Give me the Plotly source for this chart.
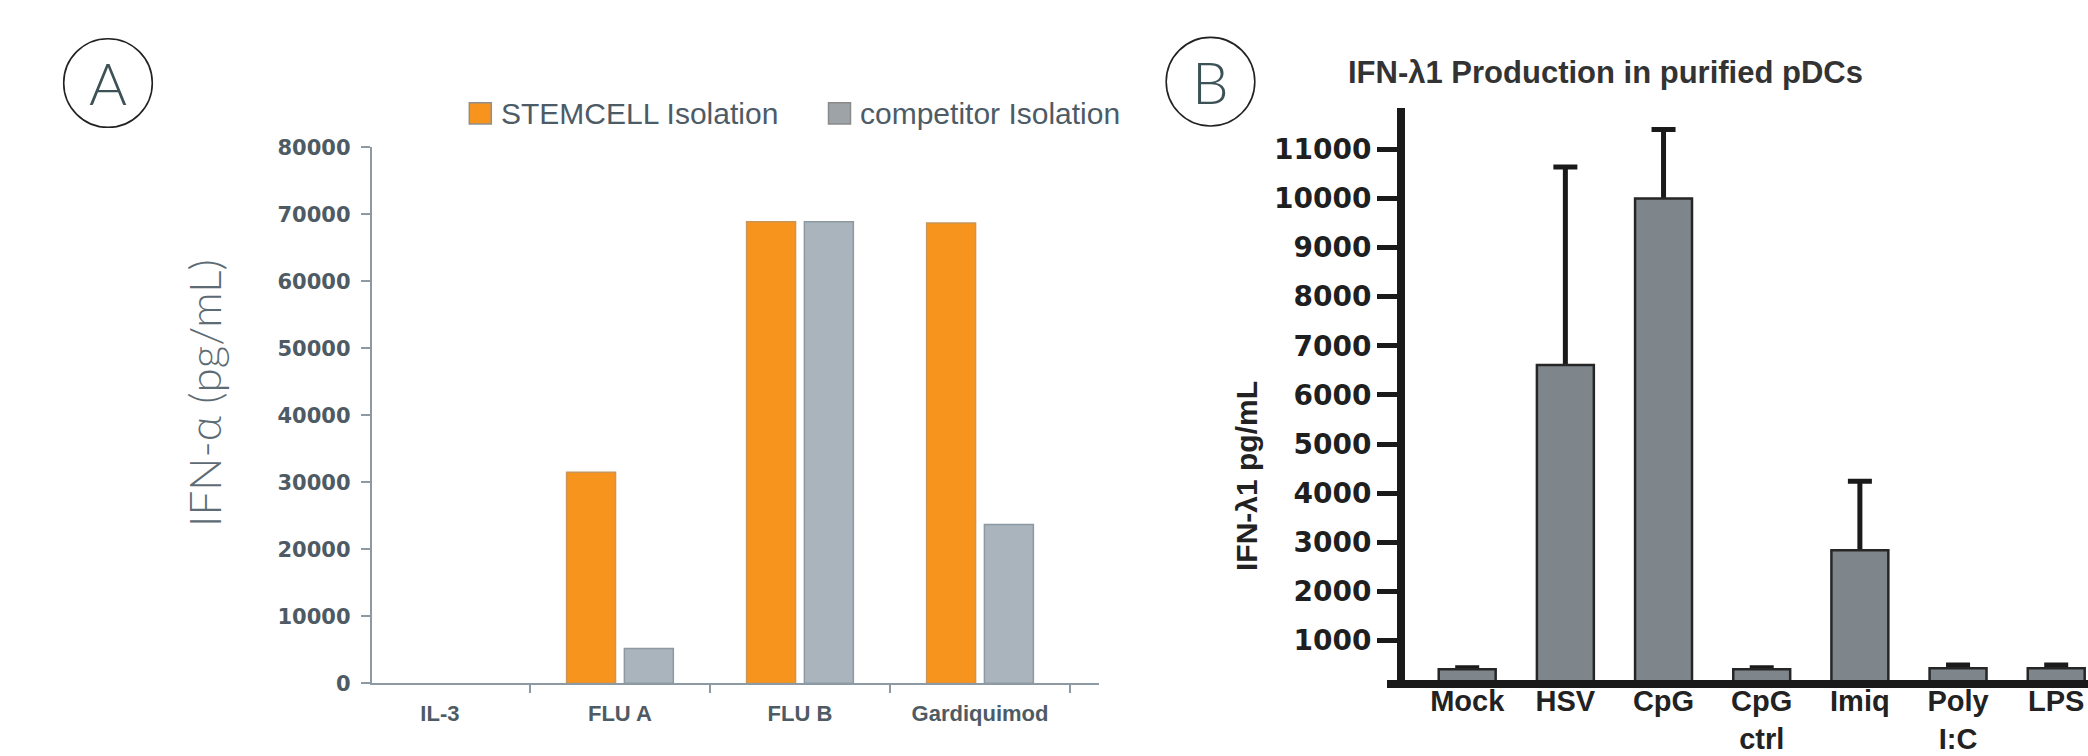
import plotly.graph_objects as go

W, H = 2088, 756

# ---------------- Panel A data ----------------
a_categories = ["IL-3", "FLU A", "FLU B", "Gardiquimod"]
a_series_names = ["STEMCELL Isolation", "competitor Isolation"]
a_stemcell = [0, 31500, 68900, 68700]
a_competitor = [0, 5200, 68900, 23700]
a_yticks = [0, 10000, 20000, 30000, 40000, 50000, 60000, 70000, 80000]
a_ytitle = "IFN-α (pg/mL)"

# ---------------- Panel B data ----------------
b_categories = ["Mock", "HSV", "CpG", "CpG<br>ctrl", "Imiq", "Poly<br>I:C", "LPS"]
b_values = [417, 6610, 10000, 417, 2840, 437, 437]
b_err_plus = [33, 4030, 1404, 33, 1405, 68, 68]
b_yticks = [1000, 2000, 3000, 4000, 5000, 6000, 7000, 8000, 9000, 10000, 11000]
b_title = "IFN-λ1 Production in purified pDCs"
b_ytitle = "IFN-λ1 pg/mL"


def px_x(x):
    return x / W


def px_y(y):
    return 1 - y / H


ORANGE = "#F7941D"
AGRAY = "#A9B4BC"
SLATE = "#4e5b64"
AXISA = "#8d9aa3"

fig = go.Figure()

# zero-height bars get no outline (nothing is visible for IL-3 in the reference)
a_line_w1 = [1.5 if v > 0 else 0 for v in a_stemcell]
a_line_w2 = [1.5 if v > 0 else 0 for v in a_competitor]

fig.add_trace(go.Bar(
    x=a_categories, y=a_stemcell, name=a_series_names[0],
    marker=dict(color=ORANGE, line=dict(color="#c9955a", width=a_line_w1)),
    width=0.272, offset=-0.2965, xaxis="x", yaxis="y", showlegend=False,
))
fig.add_trace(go.Bar(
    x=a_categories, y=a_competitor, name=a_series_names[1],
    marker=dict(color=AGRAY, line=dict(color="#8c99a2", width=a_line_w2)),
    width=0.272, offset=0.0245, xaxis="x", yaxis="y", showlegend=False,
))

# error bars carried by a transparent bar drawn first, so the visible bars hide
# the lower part of the whisker (only the upper whisker shows, as in the reference)
fig.add_trace(go.Bar(
    x=b_categories, y=b_values, name="SD",
    marker=dict(color="rgba(0,0,0,0)", line=dict(width=0)),
    width=0.58, offset=-0.29,
    error_y=dict(type="data", symmetric=False, array=b_err_plus,
                 arrayminus=b_values, color="#1a1a1a",
                 thickness=5, width=12),
    xaxis="x2", yaxis="y2", showlegend=False, hoverinfo="skip",
))
fig.add_trace(go.Bar(
    x=b_categories, y=b_values, name="IFN-λ1",
    marker=dict(color="#7E868C", line=dict(color="#262626", width=2.5)),
    width=0.58, offset=-0.29,
    xaxis="x2", yaxis="y2", showlegend=False,
))

fig.update_layout(
    width=W, height=H, autosize=False,
    margin=dict(l=0, r=0, t=0, b=0, pad=0, autoexpand=False),
    paper_bgcolor="white", plot_bgcolor="rgba(0,0,0,0)",
    barmode="group",
    xaxis=dict(
        domain=[px_x(371.7), px_x(1099)], type="category",
        categoryorder="array", categoryarray=a_categories,
        range=[-0.379, 3.661], showgrid=False, zeroline=False, automargin=False,
        showline=True, linecolor=AXISA, linewidth=2,
        ticks="outside", tickson="boundaries", ticklen=8, tickwidth=2,
        tickcolor=AXISA, ticklabelstandoff=9,
        tickfont=dict(family="Liberation Sans, Arial", size=22, color=SLATE, weight="bold"),
        anchor="y",
    ),
    yaxis=dict(
        domain=[px_y(683.3), px_y(147.3)], range=[0, 80000],
        tickvals=a_yticks, tickformat="d", showgrid=False, zeroline=False, automargin=False,
        showline=True, linecolor=AXISA, linewidth=2,
        ticks="outside", ticklen=9, tickwidth=2, tickcolor=AXISA, ticklabelstandoff=6,
        tickfont=dict(family="DejaVu Sans", size=21, color=SLATE, weight="bold"),
        anchor="x",
    ),
    xaxis2=dict(
        domain=[px_x(1405), 1.0], type="category",
        categoryorder="array", categoryarray=b_categories,
        range=[-0.6336, 6.3237], showgrid=False, zeroline=False, automargin=False,
        showline=True, linecolor="#1a1a1a", linewidth=8, ticks="", ticklen=0,
        ticklabelstandoff=-12,
        tickfont=dict(family="Liberation Sans, Arial", size=29, color="#222222", weight="bold"),
        anchor="y2",
    ),
    yaxis2=dict(
        domain=[px_y(680), px_y(108)], range=[199, 11840],
        tickvals=b_yticks, tickformat="d", showgrid=False, zeroline=False, automargin=False,
        showline=True, linecolor="#1a1a1a", linewidth=8,
        ticks="outside", ticklen=20, tickwidth=5, tickcolor="#1a1a1a",
        tickfont=dict(family="DejaVu Sans", size=28, color="#1f1f1f", weight="bold"),
        anchor="x2",
    ),
)

shapes = []
annotations = []

# panel circles + letters
for letter, cx, cy in (("A", 108, 83), ("B", 1210.5, 81.7)):
    r = 44.3
    shapes.append(dict(type="circle", xref="paper", yref="paper",
                       x0=px_x(cx - r), x1=px_x(cx + r), y0=px_y(cy + r), y1=px_y(cy - r),
                       line=dict(color="#222222", width=1.6)))
    annotations.append(dict(text=letter, xref="paper", yref="paper",
                            x=px_x(cx), y=px_y(cy), xanchor="center", yanchor="middle",
                            showarrow=False,
                            font=dict(family="Lato, Open Sans", size=58, color="#3d5257", weight=300)))

# manual legend for panel A
for name, color, border, sx0, tx in ((a_series_names[0], ORANGE, "#8f8f8f", 469.3, 499),
                                     (a_series_names[1], "#9EA3A8", "#8a8a8a", 828.5, 858)):
    shapes.append(dict(type="rect", xref="paper", yref="paper",
                       x0=px_x(sx0), x1=px_x(sx0 + 22), y0=px_y(124), y1=px_y(102.7),
                       fillcolor=color, line=dict(color=border, width=1.5)))
    annotations.append(dict(text=name, xref="paper", yref="paper",
                            x=px_x(tx), y=px_y(113), xanchor="left", yanchor="middle",
                            showarrow=False,
                            font=dict(family="Liberation Sans, Arial", size=30, color="#4d5b66")))

# axis titles
annotations.append(dict(text=a_ytitle, xref="paper", yref="paper",
                        x=px_x(204), y=px_y(393), xanchor="center", yanchor="middle",
                        textangle=-90, showarrow=False,
                        font=dict(family="Lato, Liberation Sans", size=44, color="#5d6b74", weight=300)))
annotations.append(dict(text=b_ytitle, xref="paper", yref="paper",
                        x=px_x(1246), y=px_y(476), xanchor="center", yanchor="middle",
                        textangle=-90, showarrow=False,
                        font=dict(family="Liberation Sans, Arial", size=30, color="#222222", weight="bold")))
annotations.append(dict(text=b_title, xref="paper", yref="paper",
                        x=px_x(1605.5), y=px_y(72.5), xanchor="center", yanchor="middle",
                        showarrow=False,
                        font=dict(family="Liberation Sans, Arial", size=31, color="#333333", weight="bold")))

# extend panel B x-axis line slightly left of the y-axis, as in the reference
shapes.append(dict(type="line", xref="paper", yref="paper",
                   x0=px_x(1387), x1=px_x(1405), y0=px_y(684), y1=px_y(684),
                   line=dict(color="#1a1a1a", width=8)))

fig.update_layout(shapes=shapes, annotations=annotations)

fig.write_html(
    "out.html",
    config=dict(displayModeBar=False),
    post_script=(
        "document.body.style.margin='0';"
        "document.body.style.overflow='hidden';"
        "document.documentElement.style.overflow='hidden';"
    ),
)
